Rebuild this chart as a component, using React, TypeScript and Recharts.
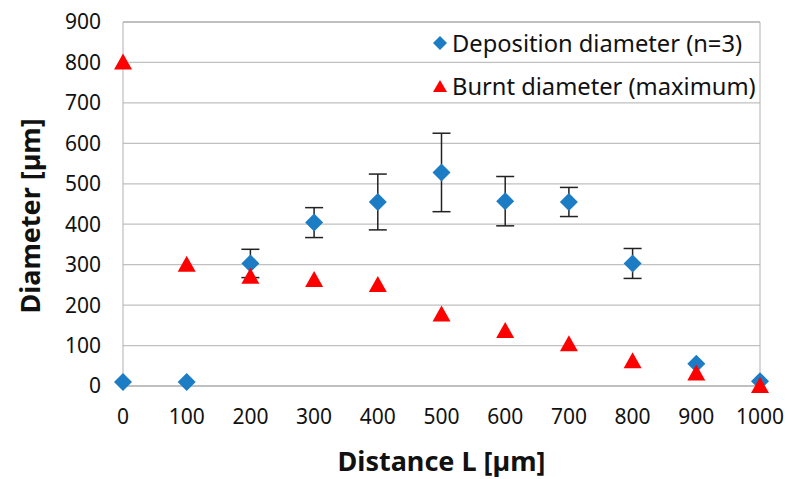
import {
  CartesianGrid,
  ErrorBar,
  Legend,
  ReferenceLine,
  Scatter,
  ScatterChart,
  XAxis,
  YAxis,
} from "recharts";

const distance = [0, 100, 200, 300, 400, 500, 600, 700, 800, 900, 1000];
const depositionDiameter = [10, 10, 303, 404, 455, 528, 457, 455, 303, 55, 12];
const depositionError = [0, 0, 35, 37, 69, 97, 61, 36, 37, 0, 0];
const burntDiameter = [800, 300, 270, 262, 250, 177, 136, 103, 61, 31, 0];
const xTicks = [0, 100, 200, 300, 400, 500, 600, 700, 800, 900, 1000];
const yTicks = [0, 100, 200, 300, 400, 500, 600, 700, 800, 900];

const BLUE = "#1c7cc4";
const RED = "#ff0000";
const FONT = "'Noto Sans', sans-serif";

const depositionData = distance.map((x, i) => ({
  x,
  y: depositionDiameter[i],
  err: depositionError[i],
}));
const burntData = distance.map((x, i) => ({ x, y: burntDiameter[i] }));

const Diamond = ({ cx, cy }: any) => (
  <path
    d={`M${cx},${cy - 9} L${cx + 9},${cy} L${cx},${cy + 9} L${cx - 9},${cy} Z`}
    fill={BLUE}
  />
);

const Triangle = ({ cx, cy }: any) => (
  <path
    d={`M${cx},${cy - 9} L${cx + 9},${cy + 7} L${cx - 9},${cy + 7} Z`}
    fill={RED}
  />
);

function LegendBox() {
  const items = [
    { label: "Deposition diameter (n=3)", icon: "M7,0 L14,7 L7,14 L0,7 Z", color: BLUE },
    { label: "Burnt diameter (maximum)", icon: "M7,1 L14,13 L0,13 Z", color: RED },
  ];
  return (
    <div style={{ fontFamily: FONT, fontSize: 23.7, color: "#111", whiteSpace: "nowrap" }}>
      {items.map((it) => (
        <div
          key={it.label}
          style={{ display: "flex", alignItems: "center", height: 43 }}
        >
          <svg width={14} height={14} style={{ marginRight: 5 }}>
            <path d={it.icon} fill={it.color} />
          </svg>
          <span>{it.label}</span>
        </div>
      ))}
    </div>
  );
}

const YTitle = ({ viewBox }: any) => {
  const x = viewBox.x + 29;
  const y = viewBox.y + viewBox.height / 2 + 12;
  return (
    <text
      x={x}
      y={y}
      transform={`rotate(-90, ${x}, ${y})`}
      textAnchor="middle"
      dominantBaseline="central"
      fontFamily={FONT}
      fontSize={27}
      fontWeight="bold"
      fill="#111"
    >
      Diameter [µm]
    </text>
  );
};

export default function App() {
  return (
    <div
      style={{
        position: "absolute",
        left: 0,
        top: 0,
        width: 788,
        height: 479,
        background: "#fff",
        fontFamily: FONT,
      }}
    >
      <ScatterChart
        width={788}
        height={479}
        margin={{ top: 22, right: 28, bottom: 0, left: 0 }}
      >
        <CartesianGrid horizontal vertical={false} stroke="#c0c0c0" strokeWidth={1.3} />
        <XAxis
          type="number"
          dataKey="x"
          domain={[0, 1000]}
          ticks={xTicks}
          height={93}
          tickLine={false}
          axisLine={{ stroke: "#b0b0b0" }}
          tickSize={0}
          tickMargin={23}
          tick={{ fill: "#111", fontSize: 21 }}
          interval={0}
          label={{
            value: "Distance L [µm]",
            position: "insideBottom",
            offset: 8,
            style: { fontSize: 27, fontWeight: "bold", fill: "#111" },
          }}
        />
        <YAxis
          type="number"
          dataKey="y"
          domain={[0, 900]}
          ticks={yTicks}
          width={123}
          tickLine={false}
          axisLine={{ stroke: "#b0b0b0" }}
          tickSize={0}
          tickMargin={22}
          tick={{ fill: "#111", fontSize: 21 }}
          interval={0}
          label={<YTitle />}
        />
        <ReferenceLine x={1000} stroke="#b0b0b0" />
        <ReferenceLine y={900} stroke="#b0b0b0" />
        <Legend
          layout="vertical"
          align="center"
          verticalAlign="middle"
          content={<LegendBox />}
          wrapperStyle={{ position: "absolute", top: 21, left: 433, width: 350 }}
        />
        <Scatter
          name="Deposition diameter (n=3)"
          data={depositionData}
          shape={<Diamond />}
          isAnimationActive={false}
        >
          <ErrorBar dataKey="err" direction="y" width={9} stroke="#222" strokeWidth={1.5} />
        </Scatter>
        <Scatter
          name="Burnt diameter (maximum)"
          data={burntData}
          shape={<Triangle />}
          isAnimationActive={false}
        />
      </ScatterChart>
    </div>
  );
}
